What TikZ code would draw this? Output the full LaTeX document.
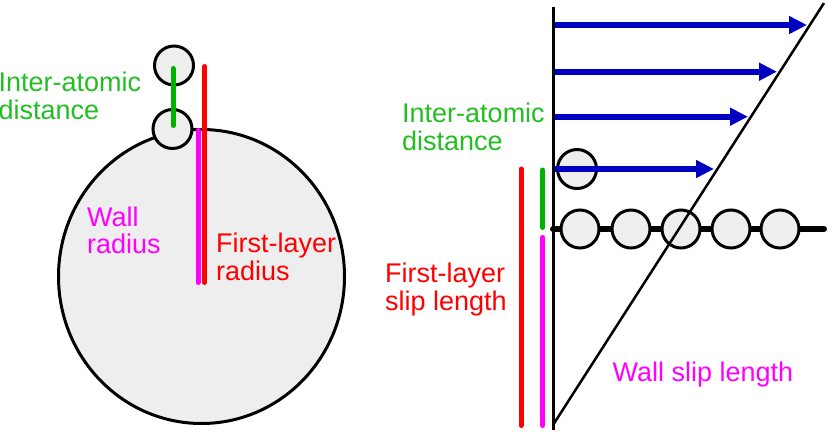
\documentclass[tikz,border=0pt]{standalone}
\usepackage{fontspec}
\setmainfont{Liberation Sans}
\usetikzlibrary{arrows.meta}

\definecolor{atomgray}{RGB}{238,238,238}
\definecolor{bargreen}{RGB}{0,178,0}
\definecolor{txtgreen}{RGB}{34,190,34}
\definecolor{flowblue}{RGB}{0,0,192}
\definecolor{wallpink}{RGB}{255,0,255}
\definecolor{layerred}{RGB}{255,0,0}

\begin{document}
\begin{tikzpicture}[x=1pt, y=-1pt, >={Triangle[length=18pt,width=17pt]},
    atom/.style={draw=black, line width=3pt, fill=atomgray},
    bar/.style={line width=5pt, line cap=round},
    lbl/.style={anchor=base west, inner sep=0pt, align=left,
      font=\fontsize{27}{28}\selectfont}]
    \useasboundingbox (0,0) rectangle (829,438);

    % curved wall with its first layer
    \coordinate (W) at (201.5,276.5);
    \draw[atom] (W) ellipse [x radius=143pt, y radius=147pt];
    \draw[atom] (174,65.5) circle [radius=19.5pt];
    \draw[atom] (172.5,129) circle [radius=19.5pt];

    \draw[bar, bargreen] (173,68.5) -- (173,125.5);
    \draw[bar, layerred] (204.7,66.5) -- (204.7,282.5);
    \draw[bar, wallpink] (198,130.5) -- (198,282.5);

    % base is the last line
    \node[lbl, txtgreen] (iad1) at (-1.5,119.5) {Inter-atomic\\distance};
    \node[lbl, wallpink] (wr) at (87,254) {Wall\\radius};
    \node[lbl, layerred] (flr) at (216,280.5) {First-layer\\radius};

    % flat wall and velocity profile
    \draw[line width=3pt] (553,7) -- (553,430);
    \draw[line width=6pt, line cap=round] (553,229) -- (824,229);
    \foreach \x in {580,631,681,731,780}
      \draw[atom] (\x,229) circle [radius=19pt];
    \draw[atom] (577,169) circle [radius=19.5pt];
    \draw[line width=2.5pt] (553,425) -- (824,3);

    \foreach \y/\t in {25/807, 71.7/777, 116.7/748, 169/714}
      \draw[->, flowblue, line width=6pt] (555,\y) -- (\t,\y);

    \draw[bar, bargreen] (542.7,170) -- (542.7,227.5);
    \draw[bar, wallpink] (542.7,237.5) -- (542.7,425.5);
    \draw[bar, layerred] (521,169) -- (521,425.5);

    \node[lbl, txtgreen] (iad2) at (402,151) {Inter-atomic\\distance};
    \node[lbl, layerred] (fls) at (385,310.5) {First-layer\\slip length};
    \node[lbl, wallpink] (wsl) at (612.5,381.7) {Wall slip length};
  \end{tikzpicture}
\end{document}
